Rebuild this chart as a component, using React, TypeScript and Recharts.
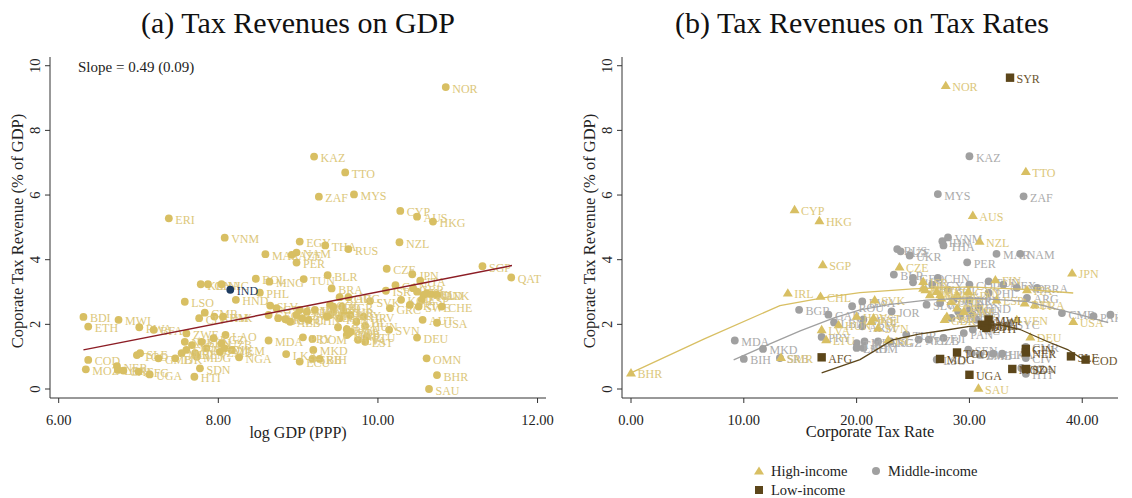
import React from 'react';
import { ScatterChart, Scatter, XAxis, YAxis } from 'recharts';

const GOLD = '#d8bf63';
const GOLD_TEXT = '#dcc77b';
const GRAY = '#a0a0a0';
const GRAY_TEXT = '#ababab';
const BROWN = '#5c461a';
const NAVY = '#1d3b60';
const RED = '#8c1d25';
const AXIS = '#333333';
const FONT = '"Liberation Serif", "DejaVu Serif", serif';

// panel (a): [country, log GDP (PPP), corporate tax revenue % of GDP]
const gdpPanel: [string, number, number][] = [
  ['NOR', 10.85, 9.34], ['KAZ', 9.2, 7.19], ['TTO', 9.59, 6.7], ['ZAF', 9.26, 5.95],
  ['MYS', 9.7, 6.02], ['ERI', 7.38, 5.28], ['CYP', 10.28, 5.51], ['AUS', 10.49, 5.33],
  ['HKG', 10.69, 5.18], ['VNM', 8.08, 4.68], ['EGY', 9.02, 4.56], ['THA', 9.34, 4.44],
  ['NZL', 10.27, 4.54], ['RUS', 9.63, 4.33], ['MAR', 8.59, 4.17], ['AZE', 8.92, 4.15],
  ['NAM', 8.98, 4.22], ['PER', 8.98, 3.91], ['CZE', 10.11, 3.72], ['SGP', 11.31, 3.8],
  ['QAT', 11.67, 3.45], ['JPN', 10.43, 3.55], ['BOL', 8.47, 3.41], ['MNG', 8.64, 3.32],
  ['TUN', 9.07, 3.4], ['BLR', 9.37, 3.52], ['BRA', 9.42, 3.11], ['PHL', 8.52, 2.98],
  ['KEN', 7.78, 3.24], ['GHA', 7.87, 3.24], ['NIC', 8.04, 3.24], ['HND', 8.22, 2.76],
  ['LSO', 7.58, 2.7], ['CMR', 7.83, 2.36], ['KHM', 7.95, 2.24], ['CIV', 7.76, 2.19],
  ['PAK', 8.06, 2.24], ['BDI', 6.31, 2.23], ['ETH', 6.37, 1.93], ['MWI', 6.75, 2.14],
  ['RWA', 7.01, 1.91], ['BFA', 7.19, 1.83], ['ZWE', 7.6, 1.72], ['LAO', 8.09, 1.67],
  ['NPL', 7.58, 1.46], ['TZA', 7.67, 1.36], ['SEN', 7.79, 1.46], ['MRT', 7.85, 1.26],
  ['KGZ', 7.94, 1.57], ['UZB', 8.04, 1.41], ['DJI', 8.08, 1.26], ['YEM', 8.17, 1.21],
  ['BEN', 7.71, 1.11], ['GIN', 7.6, 1.21], ['MDG', 7.73, 1.0], ['ZMB', 8.02, 1.15],
  ['MLI', 7.54, 1.11], ['TGO', 6.98, 1.05], ['SLE', 7.02, 1.11], ['GMB', 7.25, 0.95],
  ['TJK', 7.46, 0.95], ['COD', 6.37, 0.9], ['MOZ', 6.34, 0.61], ['NER', 6.73, 0.71],
  ['LBR', 6.74, 0.59], ['CAF', 6.81, 0.57], ['AFG', 7.0, 0.54], ['UGA', 7.14, 0.45],
  ['SDN', 7.77, 0.64], ['HTI', 7.7, 0.38], ['NGA', 8.26, 0.98],
  ['CAN', 10.22, 3.21], ['ISR', 10.1, 3.04], ['GRC', 10.15, 2.5], ['KOR', 10.29, 2.76],
  ['GBR', 10.44, 3.12], ['FIN', 10.49, 3.01], ['ITA', 10.53, 3.35], ['FRA', 10.57, 2.91],
  ['BEL', 10.61, 2.96], ['NLD', 10.67, 2.93], ['DNK', 10.74, 2.91], ['ESP', 10.55, 2.76],
  ['PRT', 10.4, 2.6], ['SWE', 10.51, 2.55], ['CHE', 10.8, 2.55], ['SVK', 9.9, 2.72],
  ['AUT', 10.56, 2.14], ['USA', 10.74, 2.05], ['SVN', 10.14, 1.83], ['DEU', 10.49, 1.59],
  ['OMN', 10.61, 0.95], ['BHR', 10.74, 0.43], ['SAU', 10.64, 0.0], ['HRV', 9.82, 2.24],
  ['HUN', 9.84, 1.95], ['EST', 9.84, 1.46], ['LVA', 9.75, 1.52], ['LTU', 9.86, 1.62],
  ['ROU', 9.52, 2.84], ['ARG', 9.63, 2.84], ['BGR', 9.55, 2.55], ['COL', 9.4, 2.6],
  ['CRI', 9.44, 2.39], ['MEX', 9.4, 2.29], ['PAN', 9.52, 2.19], ['TUR', 9.57, 2.39],
  ['URY', 9.65, 2.29], ['CHL', 9.73, 2.08], ['MUS', 9.5, 1.91], ['BWA', 9.61, 1.85],
  ['GAB', 9.63, 1.72], ['MNE', 9.61, 1.67], ['POL', 9.66, 1.77], ['DOM', 9.18, 1.55],
  ['PRY', 9.06, 1.6], ['MKD', 9.19, 1.21], ['SRB', 9.18, 0.93], ['BIH', 9.27, 0.93],
  ['ECU', 9.02, 0.85], ['LKA', 8.85, 1.08], ['MDA', 8.63, 1.5], ['SLV', 8.65, 2.58],
  ['GTM', 8.73, 2.5], ['GEO', 8.63, 2.29], ['ARM', 8.75, 2.19], ['JOR', 8.84, 2.16],
  ['ALB', 8.9, 2.08], ['IDN', 8.98, 2.29], ['JAM', 9.02, 2.45], ['FJI', 9.05, 2.19],
  ['CHN', 9.13, 2.14], ['UKR', 9.11, 2.39], ['IRN', 9.21, 2.45], ['VEN', 9.36, 2.24],
  ['IRQ', 9.44, 2.55],
];
const gdpHighlight: [string, number, number][] = [['IND', 8.15, 3.07]];
const gdpFit: [number, number][] = [[6.31, 1.21], [11.68, 3.82]];

// panel (b): [country, corporate tax rate, corporate tax revenue % of GDP]
const highIncome: [string, number, number][] = [
  ['NOR', 27.9, 9.39], ['TTO', 35.0, 6.73], ['CYP', 14.5, 5.55], ['HKG', 16.7, 5.21],
  ['AUS', 30.3, 5.37], ['NZL', 30.9, 4.57], ['SGP', 17.0, 3.85], ['CZE', 23.8, 3.78],
  ['JPN', 39.1, 3.59], ['IRL', 13.9, 2.97], ['CHL', 16.8, 2.87], ['BHR', 0.0, 0.5],
  ['SAU', 30.8, 0.03], ['USA', 39.2, 2.09], ['DEU', 35.4, 1.61], ['SVK', 21.6, 2.76],
  ['HRV', 20.0, 2.25], ['HUN', 18.4, 1.99], ['LVA', 16.9, 1.84], ['LTU', 17.3, 1.53],
  ['EST', 21.5, 2.2], ['SVN', 21.9, 1.89], ['POL', 21.3, 2.09], ['ISL', 22.8, 1.53],
  ['SMR', 13.3, 0.98], ['ISR', 25.9, 3.33], ['GRC', 26.1, 3.07], ['KOR', 26.5, 2.92],
  ['LUX', 27.4, 2.92], ['NLD', 28.9, 2.92], ['CAN', 29.9, 3.02], ['FIN', 32.3, 3.38],
  ['ESP', 32.4, 2.76], ['ITA', 35.1, 3.07], ['FRA', 35.8, 2.61], ['BEL', 34.9, 2.66],
  ['AUT', 28.0, 2.25], ['GBR', 27.8, 2.15], ['CHE', 28.4, 2.71], ['DNK', 28.9, 2.51],
  ['SWE', 29.5, 2.4], ['VEN', 34.2, 2.15], ['PRT', 25.9, 3.12], ['MLT', 27.1, 3.02],
  ['KWT', 27.5, 2.82],
];
const middleIncome: [string, number, number][] = [
  ['KAZ', 30.0, 7.2], ['MYS', 27.2, 6.03], ['ZAF', 34.8, 5.96], ['VNM', 28.1, 4.69],
  ['IDN', 27.6, 4.57], ['THA', 27.7, 4.44], ['RUS', 23.6, 4.33], ['AZE', 23.9, 4.26],
  ['UKR', 24.7, 4.13], ['MAR', 32.4, 4.18], ['NAM', 34.5, 4.18], ['PER', 29.8, 3.92],
  ['BLR', 23.3, 3.54], ['GEO', 25.0, 3.44], ['ALB', 25.0, 3.3], ['CHN', 27.2, 3.44],
  ['EGY', 26.7, 3.23], ['BOL', 28.1, 3.07], ['COL', 30.0, 3.23], ['TUN', 31.7, 3.33],
  ['PHL', 31.7, 2.97], ['MEX', 33.0, 3.23], ['IND', 34.2, 3.13], ['ARG', 35.1, 2.82],
  ['BRA', 36.0, 3.13], ['SLV', 26.2, 2.61], ['GTM', 27.4, 2.66], ['CRI', 30.0, 2.76],
  ['ECU', 30.0, 2.45], ['HND', 30.8, 2.51], ['DOM', 29.0, 2.4], ['JAM', 28.6, 2.76],
  ['ROU', 19.6, 2.56], ['BWA', 20.5, 2.71], ['JOR', 23.1, 2.4], ['MNE', 20.6, 2.15],
  ['ARM', 20.5, 1.94], ['PAN', 29.5, 1.73], ['NIC', 30.3, 1.84], ['FJI', 27.7, 1.58],
  ['UZB', 26.4, 1.53], ['NPL', 25.5, 1.53], ['TUR', 24.4, 1.68], ['MNG', 21.9, 1.47],
  ['KGZ', 23.0, 1.47], ['MUS', 20.7, 1.47], ['KHM', 20.6, 1.27], ['BGR', 14.9, 2.45],
  ['GAB', 17.5, 2.3], ['LBN', 18.0, 2.06], ['PRY', 16.9, 1.61], ['MDA', 9.2, 1.5],
  ['MKD', 11.7, 1.24], ['BIH', 10.0, 0.93], ['SRB', 13.2, 0.96], ['TJK', 20.0, 1.42],
  ['LAO', 20.0, 1.27], ['SEN', 29.9, 1.22], ['YEM', 30.2, 1.11], ['ZMB', 30.9, 1.06],
  ['GHA', 32.1, 1.09], ['LKA', 32.9, 1.09], ['LSO', 27.1, 0.91], ['CMR', 35.0, 1.3],
  ['CIV', 35.0, 0.96], ['HTI', 35.0, 0.47], ['NGA', 34.6, 0.65], ['CMB', 38.2, 2.35],
  ['PAK', 41.0, 2.25], ['IRN', 42.5, 2.3], ['SYC', 33.6, 2.04], ['URY', 29.2, 2.25],
  ['IRQ', 30.3, 2.3], ['DZA', 30.6, 2.15], ['LBY', 28.4, 2.2], ['KEN', 30.0, 2.76],
];
const lowIncome: [string, number, number][] = [
  ['SYR', 33.6, 9.63], ['AFG', 16.9, 0.98], ['MWI', 31.7, 2.15], ['BFA', 31.1, 1.99],
  ['ETH', 31.5, 1.89], ['MLI', 31.8, 1.99], ['BDI', 31.3, 1.95], ['TGO', 28.9, 1.13],
  ['MDG', 27.4, 0.93], ['UGA', 30.0, 0.44], ['GIN', 35.0, 1.24], ['NER', 35.0, 1.13],
  ['MOZ', 33.8, 0.62], ['SDN', 35.0, 0.62], ['SLE', 39.0, 1.01], ['COD', 40.3, 0.91],
];
// lowess fits
const highFit: [number, number][] = [
  [0, 0.5], [6.5, 1.55], [13.2, 2.58], [17, 2.82], [20.3, 2.98], [25, 3.1], [30, 3.16], [35, 3.08], [39.2, 2.97],
];
const middleFit: [number, number][] = [
  [9.1, 0.9], [12, 1.35], [15, 1.8], [18, 2.2], [20.3, 2.45], [23, 2.62], [26.2, 2.75], [30, 2.82], [35.1, 2.71], [38, 2.45], [40, 2.28], [42.3, 2.05],
];
const lowFit: [number, number][] = [
  [16.9, 0.5], [20.3, 0.91], [23.2, 1.52], [25.5, 1.7], [27.7, 1.81], [30, 1.94], [32.7, 1.99], [34.5, 1.84], [36.9, 1.47], [38.7, 1.22], [40.1, 0.91],
];

const revTicks = [0, 2, 4, 6, 8, 10];
const gdpTicks = [6, 8, 10, 12];
const rateTicks = [0, 10, 20, 30, 40];

const toPts = (rows: [string, number, number][]) => rows.map(([code, x, y]) => ({ code, x, y }));
const toLine = (rows: [number, number][]) => rows.map(([x, y]) => ({ x, y }));

function marker(kind: string, fill: string, textFill: string) {
  return (props: any) => {
    const { cx, cy, payload } = props;
    if (cx == null || cy == null) return <g />;
    let mark;
    if (kind === 'triangle') {
      mark = <polygon points={`${cx},${cy - 4.8} ${cx + 5},${cy + 3.6} ${cx - 5},${cy + 3.6}`} fill={fill} />;
    } else if (kind === 'square') {
      mark = <rect x={cx - 4.2} y={cy - 4.2} width={8.4} height={8.4} fill={fill} />;
    } else {
      mark = <circle cx={cx} cy={cy} r={3.9} fill={fill} />;
    }
    return (
      <g>
        {mark}
        <text x={cx + 6.5} y={cy + 1.5} dominantBaseline="central" fontSize={12} fill={textFill} fontFamily={FONT}>
          {payload.code}
        </text>
      </g>
    );
  };
}

const noDot = () => <g />;

const yTick = (props: any) => {
  const { x, y, payload } = props;
  const cx = x - 8;
  return (
    <text x={cx} y={y} transform={`rotate(-90 ${cx} ${y})`} textAnchor="middle" dominantBaseline="central"
      fontSize={14.5} fill="#222" fontFamily={FONT}>
      {payload.value}
    </text>
  );
};

const xTickStyle = { fontSize: 14.5, fill: '#222', fontFamily: FONT };
const lineStyle = { stroke: AXIS, strokeWidth: 1 };
const chartMargin = { top: 57, right: 14, bottom: 70, left: 0 };

export default function App() {
  return (
    <div style={{ position: 'absolute', left: 0, top: 0, width: 1132, height: 498, background: '#fff' }}>
      <div style={{ position: 'absolute', left: 0, top: 0 }}>
        <ScatterChart width={560} height={498} margin={chartMargin}>
          <XAxis type="number" dataKey="x" domain={[5.891, 12.106]} ticks={gdpTicks} allowDataOverflow
            tickFormatter={(v: number) => v.toFixed(2)} tick={xTickStyle} tickLine={lineStyle} axisLine={lineStyle}
            tickSize={5} tickMargin={12} height={30} />
          <YAxis type="number" dataKey="y" domain={[-0.278, 10.27]} ticks={revTicks} allowDataOverflow
            tick={yTick} tickLine={lineStyle} axisLine={lineStyle} tickSize={5} tickMargin={2} width={50} />
          <Scatter data={toPts(gdpPanel)} shape={marker('circle', GOLD, GOLD_TEXT)} isAnimationActive={false} />
          <Scatter data={toPts(gdpHighlight)} shape={marker('circle', NAVY, NAVY)} isAnimationActive={false} />
          <Scatter data={toLine(gdpFit)} shape={noDot} line={{ stroke: RED, strokeWidth: 1.4 }} lineType="joint"
            isAnimationActive={false} />
        </ScatterChart>
      </div>
      <div style={{ position: 'absolute', left: 572, top: 0 }}>
        <ScatterChart width={560} height={498} margin={chartMargin}>
          <XAxis type="number" dataKey="x" domain={[-0.798, 43.17]} ticks={rateTicks} allowDataOverflow
            tickFormatter={(v: number) => v.toFixed(2)} tick={xTickStyle} tickLine={lineStyle} axisLine={lineStyle}
            tickSize={5} tickMargin={12} height={30} />
          <YAxis type="number" dataKey="y" domain={[-0.278, 10.27]} ticks={revTicks} allowDataOverflow
            tick={yTick} tickLine={lineStyle} axisLine={lineStyle} tickSize={5} tickMargin={2} width={50} />
          <Scatter data={toPts(middleIncome)} shape={marker('circle', GRAY, GRAY_TEXT)} isAnimationActive={false} />
          <Scatter data={toPts(highIncome)} shape={marker('triangle', GOLD, GOLD_TEXT)} isAnimationActive={false} />
          <Scatter data={toPts(lowIncome)} shape={marker('square', BROWN, '#6d5630')} isAnimationActive={false} />
          <Scatter data={toLine(highFit)} shape={noDot} line={{ stroke: GOLD, strokeWidth: 1.3 }} lineType="joint"
            isAnimationActive={false} />
          <Scatter data={toLine(middleFit)} shape={noDot} line={{ stroke: GRAY, strokeWidth: 1.3 }} lineType="joint"
            isAnimationActive={false} />
          <Scatter data={toLine(lowFit)} shape={noDot} line={{ stroke: BROWN, strokeWidth: 1.3 }} lineType="joint"
            isAnimationActive={false} />
        </ScatterChart>
      </div>
      <svg width={1132} height={498} style={{ position: 'absolute', left: 0, top: 0, pointerEvents: 'none' }}
        fontFamily={FONT}>
        <text x={298} y={22} textAnchor="middle" dominantBaseline="central" fontSize={30} fill="#111">
          (a) Tax Revenues on GDP
        </text>
        <text x={862} y={22} textAnchor="middle" dominantBaseline="central" fontSize={30} fill="#111">
          (b) Tax Revenues on Tax Rates
        </text>
        <text x={78} y={67} dominantBaseline="central" fontSize={15} fill="#222">Slope = 0.49 (0.09)</text>
        <text x={17} y={231} transform="rotate(-90 17 231)" textAnchor="middle" dominantBaseline="central"
          fontSize={16.5} fill="#222">Coporate Tax Revenue (% of GDP)</text>
        <text x={589} y={231} transform="rotate(-90 589 231)" textAnchor="middle" dominantBaseline="central"
          fontSize={16.5} fill="#222">Coporate Tax Revenue (% of GDP)</text>
        <text x={298} y={432} textAnchor="middle" dominantBaseline="central" fontSize={16} fill="#222">log GDP (PPP)</text>
        <text x={870} y={431} textAnchor="middle" dominantBaseline="central" fontSize={16.5} fill="#222">Corporate Tax Rate</text>
        <polygon points="759,466.5 764,474.5 754,474.5" fill={GOLD} />
        <text x={771} y={471} dominantBaseline="central" fontSize={14.5} fill="#222">High-income</text>
        <circle cx={876} cy={471} r={4} fill={GRAY} />
        <text x={888} y={471} dominantBaseline="central" fontSize={14.5} fill="#222">Middle-income</text>
        <rect x={755} y={486} width={8} height={8} fill={BROWN} />
        <text x={771} y={490} dominantBaseline="central" fontSize={14.5} fill="#222">Low-income</text>
      </svg>
    </div>
  );
}
